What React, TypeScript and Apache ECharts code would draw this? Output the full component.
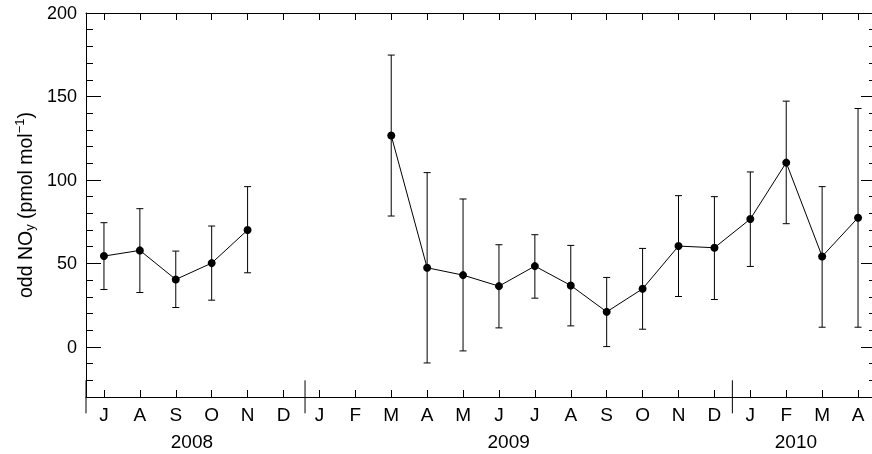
import React, { useEffect, useRef } from "react";
import * as echarts from "echarts";

const months = ["J","A","S","O","N","D","J","F","M","A","M","J","J","A","S","O","N","D","J","F","M","A"];
const values: (number | null)[] = [54.4, 57.8, 40.4, 50.2, 70, null, null, null, 126.6, 47.4, 43, 36.4, 48.4, 36.8, 21, 34.8, 60.4, 59.4, 76.6, 110.4, 54.2, 77.4];
const upper: (number | null)[] = [74.4, 82.8, 57.4, 72.4, 96, null, null, null, 174.8, 104.4, 88.6, 61.2, 67.2, 60.8, 41.6, 59, 90.6, 90, 104.8, 147.2, 96, 142.8];
const lower: (number | null)[] = [34.4, 32.6, 23.6, 28, 44.4, null, null, null, 78.4, -9.6, -2.4, 11.4, 29.2, 12.6, 0.2, 10.6, 30.2, 28.4, 48.2, 73.8, 11.8, 11.8];
const years = ["2008", "2009", "2010"];
const yearCenters = [2.45, 11.27, 19.27];
const yearDividers = [-0.5, 5.6, 17.5];
const yMajorTicks = [0, 50, 100, 150, 200];
const monthIdx = months.map((_, i) => i);

const FONT = "Liberation Sans, Arial, Helvetica, sans-serif";

export default function App() {
  const ref = useRef<HTMLDivElement>(null);
  useEffect(() => {
    if (!ref.current) return;
    const chart = echarts.init(ref.current, null, { renderer: "svg" });
    const lineData = values.map((v, i) => [i, v]);
    const errData: number[][] = [];
    values.forEach((v, i) => {
      if (v != null && lower[i] != null && upper[i] != null) errData.push([i, lower[i] as number, upper[i] as number]);
    });
    const axisLine = { show: true, onZero: false, lineStyle: { color: "#000", width: 1 } };
    const noLine = { show: false, onZero: false };
    const yBase = { type: "value", min: -30, max: 200, splitLine: { show: false }, axisLine };
    const xBase = { type: "value", min: -0.5, max: 21.5, splitLine: { show: false } };
    chart.setOption({
      animation: false,
      textStyle: { fontFamily: FONT },
      grid: { left: 86, right: 0, top: 13, bottom: 57, containLabel: false },
      xAxis: [
        {
          ...xBase, position: "bottom", axisLine,
          axisTick: { show: true, inside: true, length: 7, customValues: monthIdx, lineStyle: { color: "#000" } },
          axisLabel: { show: true, customValues: monthIdx, formatter: (v: number) => months[Math.round(v)] ?? "", fontSize: 19, color: "#000", margin: 8, fontFamily: FONT },
        },
        {
          ...xBase, position: "top", axisLine,
          axisTick: { show: true, inside: true, length: 7, customValues: monthIdx, lineStyle: { color: "#000" } },
          axisLabel: { show: false },
        },
        {
          ...xBase, position: "bottom", axisLine: noLine, axisTick: { show: false },
          axisLabel: {
            show: true, customValues: yearCenters, margin: 35, fontSize: 19, color: "#000", fontFamily: FONT,
            formatter: (v: number) => {
              const k = yearCenters.findIndex((c) => Math.abs(c - v) < 0.01);
              return k >= 0 ? years[k] : "";
            },
          },
        },
      ],
      yAxis: [
        {
          ...yBase, position: "left",
          axisTick: { show: true, inside: true, length: 15, customValues: yMajorTicks, lineStyle: { color: "#000" } },
          axisLabel: { show: true, customValues: yMajorTicks, fontSize: 18, color: "#000", margin: 9, fontFamily: FONT },
          name: "{a|odd NO}{sub|y}{a| (pmol mol}{sup|−1}{a|)}",
          nameLocation: "middle",
          nameGap: 49,
          nameRotate: 90,
          nameTextStyle: {
            rich: {
              a: { fontSize: 19.5, color: "#000", fontFamily: FONT, lineHeight: 23 },
              sub: { fontSize: 13, color: "#000", fontFamily: FONT, lineHeight: 23, verticalAlign: "bottom", padding: [9, 0, 0, 0] },
              sup: { fontSize: 13, color: "#000", fontFamily: FONT, lineHeight: 23, verticalAlign: "top", padding: [0, 0, 7, 0] },
            },
          },
        },
        {
          ...yBase, position: "left", interval: 10, axisLine: noLine,
          axisTick: { show: true, inside: true, length: 7, lineStyle: { color: "#000" } },
          axisLabel: { show: false },
        },
        {
          ...yBase, position: "right",
          axisTick: { show: true, inside: true, length: 15, customValues: yMajorTicks, lineStyle: { color: "#000" } },
          axisLabel: { show: false },
        },
        {
          ...yBase, position: "right", interval: 10, axisLine: noLine,
          axisTick: { show: true, inside: true, length: 7, lineStyle: { color: "#000" } },
          axisLabel: { show: false },
        },
      ],
      series: [
        {
          type: "custom",
          name: "errors",
          xAxisIndex: 0, yAxisIndex: 0,
          data: errData,
          renderItem: (params: any, api: any) => {
            const x = api.value(0);
            const p1 = api.coord([x, api.value(2)]);
            const p2 = api.coord([x, api.value(1)]);
            const w = 3.5;
            const style = { stroke: "#000", lineWidth: 1 };
            return {
              type: "group",
              children: [
                { type: "line", shape: { x1: p1[0], y1: p1[1], x2: p2[0], y2: p2[1] }, style },
                { type: "line", shape: { x1: p1[0] - w, y1: p1[1], x2: p1[0] + w, y2: p1[1] }, style },
                { type: "line", shape: { x1: p2[0] - w, y1: p2[1], x2: p2[0] + w, y2: p2[1] }, style },
              ],
            };
          },
          z: 2,
        },
        {
          type: "line",
          name: "odd NOy",
          xAxisIndex: 0, yAxisIndex: 0,
          data: lineData,
          connectNulls: false,
          symbol: "circle",
          symbolSize: 8,
          itemStyle: { color: "#000" },
          lineStyle: { color: "#000", width: 1 },
          z: 3,
        },
        {
          type: "custom",
          name: "dividers",
          xAxisIndex: 0, yAxisIndex: 0,
          clip: false,
          data: yearDividers.map((d) => [d]),
          renderItem: (params: any, api: any) => {
            const p = api.coord([api.value(0), -20]);
            return {
              type: "line",
              shape: { x1: p[0], y1: p[1], x2: p[0], y2: p[1] + 33 },
              style: { stroke: "#000", lineWidth: 1 },
            };
          },
        },
      ],
    });
    return () => chart.dispose();
  }, []);
  return <div ref={ref} style={{ position: "fixed", left: 0, top: 0, width: 876, height: 454 }} />;
}
